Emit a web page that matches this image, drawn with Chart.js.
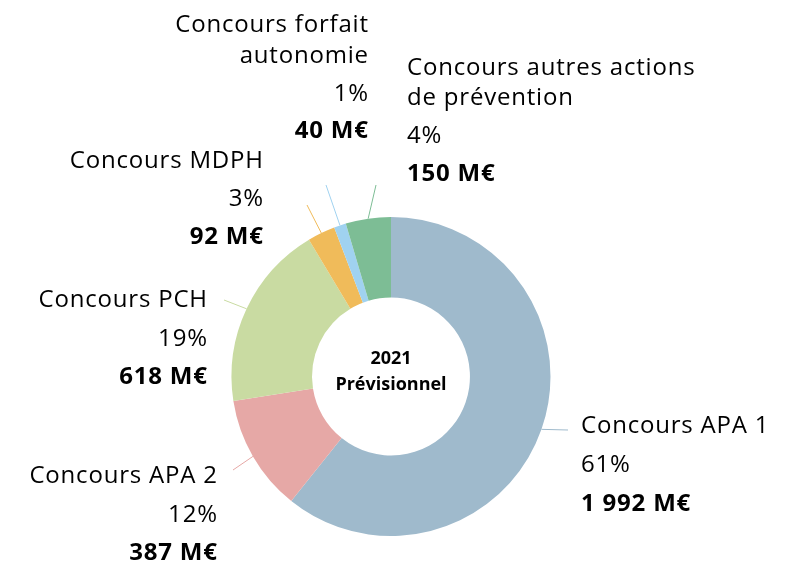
<!DOCTYPE html>
<html>
<head>
<meta charset="utf-8">
<script src="https://cdn.jsdelivr.net/npm/chart.js@4.4.1/dist/chart.umd.min.js"></script>
<style>
  html, body { margin: 0; padding: 0; background: #ffffff; }
  #c { display: block; }
</style>
</head>
<body>
<canvas id="c" width="788" height="563"></canvas>
<script>
// ---- Data ----
const categories = ['Concours APA 1', 'Concours APA 2', 'Concours PCH', 'Concours MDPH', 'Concours forfait autonomie', 'Concours autres actions de prévention'];
const nameLines = [['Concours APA 1'], ['Concours APA 2'], ['Concours PCH'], ['Concours MDPH'], ['Concours forfait', 'autonomie'], ['Concours autres actions', 'de prévention']];
const amounts = [1992, 387, 618, 92, 40, 150];
const percentLabels = ['61%', '12%', '19%', '3%', '1%', '4%'];
const amountLabels = ['1 992 M€', '387 M€', '618 M€', '92 M€', '40 M€', '150 M€'];
const centerLines = ['2021', 'Prévisionnel'];

// ---- Styles / layout ----
const colors = ['#9fbacc', '#e6a8a6', '#c9dba2', '#f0bb5a', '#a0d2f0', '#7dbd95'];
const lineColors = ['#9fbacc', '#e6a8a6', '#c9dba2', '#f0bb5a', '#a0d2f0', '#7dbd95'];
const FONT = '"Open Sans", sans-serif';
// label layout: x anchor, align, baselines of each line, leader-line end point
const labelLayout = [
  { x: 581, align: 'left',  base: [433, 472, 511],      end: [568, 430] },
  { x: 217, align: 'right', base: [483, 522, 560],      end: [233, 470] },
  { x: 207, align: 'right', base: [307, 346, 384],      end: [224, 300] },
  { x: 263, align: 'right', base: [168, 206, 244],      end: [307, 205] },
  { x: 368, align: 'right', base: [32, 63, 101, 138],   end: [326, 185] },
  { x: 407, align: 'left',  base: [75, 105, 143, 181],  end: [376, 185] }
];

const labelPlugin = {
  id: 'outLabels',
  afterDatasetsDraw(chart) {
    const ctx = chart.ctx;
    const meta = chart.getDatasetMeta(0);
    ctx.save();
    meta.data.forEach((arc, i) => {
      const p = arc.getProps(['x', 'y', 'startAngle', 'endAngle', 'outerRadius'], true);
      const mid = (p.startAngle + p.endAngle) / 2;
      const sx = p.x + Math.cos(mid) * p.outerRadius;
      const sy = p.y + Math.sin(mid) * p.outerRadius;
      const L = labelLayout[i];
      ctx.strokeStyle = lineColors[i];
      ctx.lineWidth = 1;
      ctx.beginPath();
      ctx.moveTo(sx, sy);
      ctx.lineTo(L.end[0], L.end[1]);
      ctx.stroke();

      ctx.fillStyle = '#000000';
      ctx.textAlign = L.align;
      ctx.textBaseline = 'alphabetic';
      ctx.letterSpacing = '0.8px';
      const xx = L.align === 'right' ? L.x + 0.8 : L.x;
      const lines = nameLines[i].concat([percentLabels[i]]);
      ctx.font = '24px ' + FONT;
      lines.forEach((t, k) => ctx.fillText(t, xx, L.base[k]));
      ctx.font = 'bold 24px ' + FONT;
      ctx.fillText(amountLabels[i], xx, L.base[lines.length]);
    });
    // center text
    const a0 = meta.data[0];
    ctx.letterSpacing = '0px';
    ctx.textAlign = 'center';
    ctx.font = 'bold 18px ' + FONT;
    ctx.fillText(centerLines[0], a0.x, 364);
    ctx.fillText(centerLines[1], a0.x, 390);
    ctx.restore();
  }
};

new Chart(document.getElementById('c'), {
  type: 'doughnut',
  data: {
    labels: categories,
    datasets: [{
      data: amounts,
      backgroundColor: colors,
      borderWidth: 0
    }]
  },
  options: {
    responsive: false,
    animation: false,
    cutout: '49.5%',
    layout: { padding: { left: 231.5, right: 237.5, top: 217, bottom: 27 } },
    plugins: { legend: { display: false }, tooltip: { enabled: false } }
  },
  plugins: [labelPlugin]
});
</script>
</body>
</html>
